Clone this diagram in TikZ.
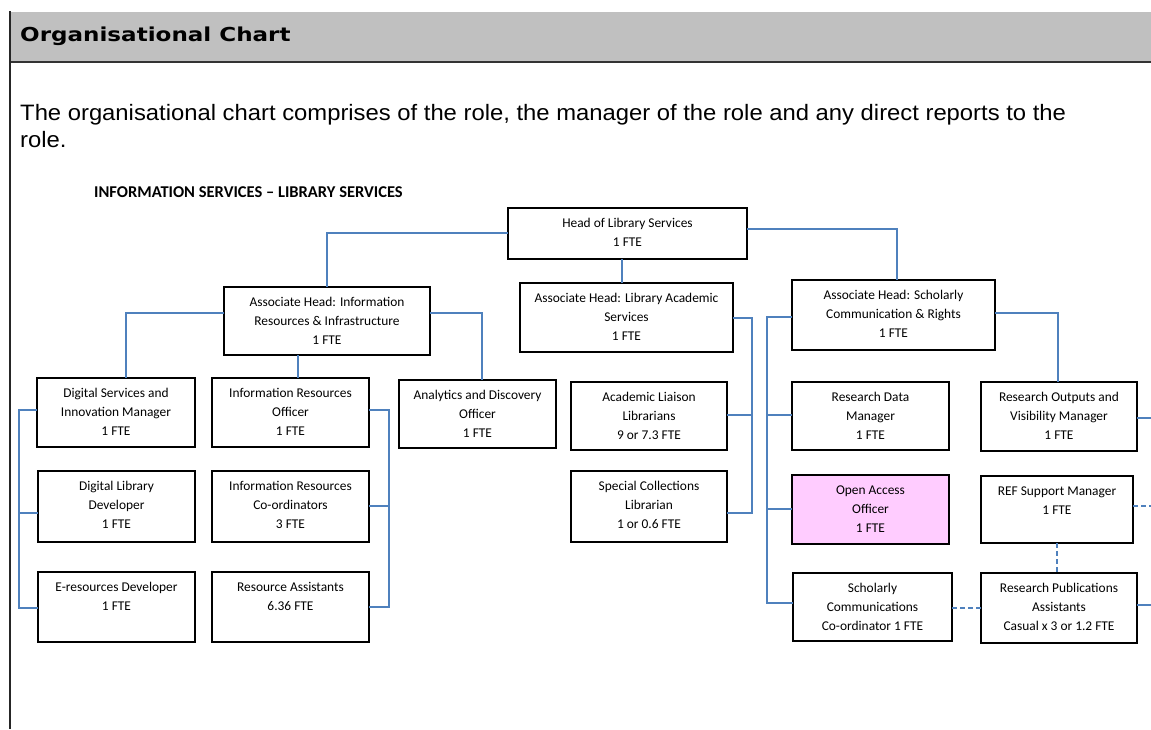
\documentclass[tikz,border=0pt]{standalone}
\usepackage{fontspec}
\setmainfont{Liberation Sans}
\newfontfamily\parafont{Liberation Sans}[FakeStretch=1.068]
\newfontfamily\headfont{DejaVu Sans}[FakeStretch=1.2]
\newfontfamily\calfont{Carlito}
\usetikzlibrary{calc}
\definecolor{linkblue}{RGB}{79,129,189}
\definecolor{oapink}{RGB}{255,204,255}
\definecolor{bandgrey}{RGB}{192,192,192}
\tikzset{
  orgbox/.style={draw=black, line width=1.6pt, inner sep=0pt, outer sep=0pt},
  boxtext/.style={font=\calfont\fontsize{13.4}{19}\selectfont, align=center, anchor=north, inner sep=0pt, text=black},
  conn/.style={draw=linkblue, line width=1.4pt},
  dconn/.style={conn, dash pattern=on 5pt off 3pt},
  plain/.style={inner sep=0pt, anchor=base west},
}
\newcommand\orgnode[7][]{%
  \node[orgbox,#1,minimum width={(#5)-(#3)},minimum height={(#6)-(#4)}] (#2) at ({((#3)+(#5))/2},{((#4)+(#6))/2}) {};
  \node[boxtext] (#2-text) at ([yshift=-9pt]#2.north) {\rule{0pt}{10pt}#7};
}
\begin{document}
\begin{tikzpicture}[x=1pt,y=-1pt]
\useasboundingbox (0,0) rectangle (1151,729);
\fill[white] (0,0) rectangle (1151,729);
% header band
\fill[bandgrey] (10,12) rectangle (1151,62);
\draw[line width=1.8pt, black!80] (10,62) -- (1151,62);
\draw[line width=1.5pt, black!85] (10,11) -- (10,729);
\node[plain] (title) at (20,41) {\headfont\bfseries\fontsize{19.2}{23}\selectfont Organisational Chart};
\node[plain] (para1) at (20,120) {\parafont\fontsize{22.3}{27}\selectfont The organisational chart comprises of the role, the manager of the role and any direct reports to the};
\node[plain] (para2) at (20,147) {\parafont\fontsize{22.3}{27}\selectfont role.};
\node[plain] (dept) at (94,197) {\calfont\bfseries\fontsize{16.5}{20}\selectfont INFORMATION SERVICES – LIBRARY SERVICES};

% boxes
\orgnode{head}{508}{208}{747}{259}{Head of Library Services\\1 FTE}
\orgnode{ahinfo}{224}{287}{430}{355}{Associate Head: Information\\Resources \& Infrastructure\\1 FTE}
\orgnode{ahlib}{520}{283}{733}{352}{Associate Head: Library Academic\\Services\\1 FTE}
\orgnode{ahsch}{792}{280}{995}{350}{Associate Head: Scholarly\\Communication \& Rights\\1 FTE}

\orgnode{dsim}{37}{378}{195}{447}{Digital Services and\\Innovation Manager\\1 FTE}
\orgnode{iro}{212}{378}{369}{447}{Information Resources\\Officer\\1 FTE}
\orgnode{ado}{399}{380}{556}{448}{Analytics and Discovery\\Officer\\1 FTE}
\orgnode{all}{571}{382}{727}{450}{Academic Liaison\\Librarians\\9 or 7.3 FTE}
\orgnode{rdm}{792}{382}{949}{450}{Research Data\\Manager\\1 FTE}
\orgnode{rovm}{981}{382}{1137}{451}{Research Outputs and\\Visibility Manager\\1 FTE}

\orgnode{dld}{38}{471}{195}{542}{Digital Library\\Developer\\1 FTE}
\orgnode{irc}{212}{471}{369}{542}{Information Resources\\Co-ordinators\\3 FTE}
\orgnode{scl}{571}{471}{727}{542}{Special Collections\\Librarian\\1 or 0.6 FTE}
\orgnode[fill=oapink]{oao}{792}{475}{949}{544}{Open Access\\Officer\\1 FTE}
\orgnode{refm}{981}{476}{1133}{543}{REF Support Manager\\1 FTE}

\orgnode{erd}{38}{572}{195}{642}{E-resources Developer\\1 FTE}
\orgnode{ra}{212}{572}{369}{642}{Resource Assistants\\6.36 FTE}
\orgnode{scc}{793}{573}{952}{641}{Scholarly\\Communications\\Co-ordinator 1 FTE}
\orgnode{rpa}{981}{573}{1137}{643}{Research Publications\\Assistants\\Casual x 3 or 1.2 FTE}

% coordinates for buses and free ends
\coordinate (libmid) at (752,415);
\coordinate (libbus) at (752,513);
\coordinate (schmid1) at (767,415);
\coordinate (schmid2) at (767,509);
\coordinate (schbus) at (767,603);
\coordinate (leftmid) at (19,513);
\coordinate (leftbus) at (19,608);
\coordinate (irmid) at (389,506);
\coordinate (irbus) at (389,607);
\coordinate (edge1) at (1151,418);
\coordinate (edge2) at (1151,506);
\coordinate (edge3) at (1151,605);

% connectors
\draw[conn] (head.west |- 0,233) -| (ahinfo.north);
\draw[conn] (head.south -| 622,0) -- (ahlib.north -| 622,0);
\draw[conn] (head.east |- 0,229) -| (ahsch.north -| 897,0);

\draw[conn] (ahinfo.west |- 0,313) -| (dsim.north -| 126,0);
\draw[conn] (ahinfo.south -| 298,0) -- (iro.north -| 298,0);
\draw[conn] (ahinfo.east |- 0,313) -| (ado.north -| 482,0);

\draw[conn] (ahlib.east |- 0,318) -| (libbus) -- (scl.east |- libbus);
\draw[conn] (libmid) -- (all.east |- libmid);

\draw[conn] (ahsch.west |- 0,317) -| (schbus) -- (scc.west |- schbus);
\draw[conn] (schmid1) -- (rdm.west |- schmid1);
\draw[conn] (schmid2) -- (oao.west |- schmid2);
\draw[conn] (ahsch.east |- 0,313) -| (rovm.north -| 1058,0);

\draw[conn] (dsim.west |- 0,410) -| (leftbus) -- (erd.west |- leftbus);
\draw[conn] (leftmid) -- (dld.west |- leftmid);

\draw[conn] (iro.east |- 0,410) -| (irbus) -- (ra.east |- irbus);
\draw[conn] (irmid) -- (irc.east |- irmid);

\draw[dconn] (scc.east |- 0,608) -- (rpa.west |- 0,608);
\draw[dconn] (refm.south -| 1057,0) -- (rpa.north -| 1057,0);

\draw[conn] (rovm.east |- edge1) -- (edge1);
\draw[dconn] (refm.east |- edge2) -- (edge2);
\draw[conn] (rpa.east |- edge3) -- (edge3);
\end{tikzpicture}
\end{document}
